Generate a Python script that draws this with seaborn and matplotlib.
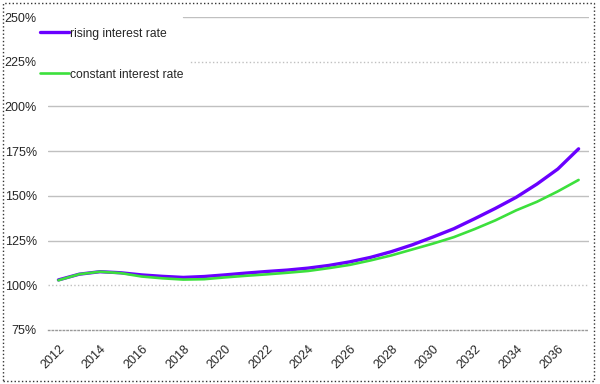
import matplotlib
matplotlib.use("Agg")
import matplotlib.pyplot as plt
import matplotlib.transforms as mtransforms
import seaborn as sns
import pandas as pd
import numpy as np
from matplotlib.patches import Rectangle
from matplotlib.lines import Line2D

years = list(range(2012, 2038))
rising = [103.0, 106.2, 107.6, 107.0, 105.8, 105.0, 104.4, 104.9, 105.8, 106.8,
          107.7, 108.5, 109.6, 111.1, 113.1, 115.6, 118.8, 122.6, 127.0, 131.6,
          137.2, 143.0, 149.2, 156.6, 165.0, 176.3]
constant = [102.8, 106.2, 107.6, 106.8, 104.9, 103.9, 103.2, 103.4, 104.4, 105.3,
            106.1, 107.0, 108.0, 109.6, 111.4, 113.9, 116.7, 120.0, 123.3, 126.9,
            131.4, 136.3, 141.9, 146.7, 152.5, 158.9]
series_names = ["rising interest rate", "constant interest rate"]
yticks = [75, 100, 125, 150, 175, 200, 225, 250]
xlabels = [str(y) if (y - 2012) % 2 == 0 else "" for y in years]

sns.set_style("white")
plt.rcParams['font.family'] = ['Liberation Sans', 'DejaVu Sans']

df = pd.DataFrame({
    "idx": list(range(len(years))) * 2,
    "value": rising + constant,
    "series": [series_names[0]] * len(years) + [series_names[1]] * len(years),
})

fig = plt.figure(figsize=(6.0, 3.84), dpi=100)
ax = fig.add_axes([48/600, 1-330/384, (589-48)/600, (330-17)/384])

legend_right = (183 - 48) / 541
for v in yticks[1:]:
    ls = ':' if v in (100, 225) else '-'
    xmin = legend_right if v in (225, 250) else 0
    ax.axhline(v, xmin=xmin, color='#c0c0c0', lw=1.0, ls=ls, zorder=0)

sns.lineplot(data=df, x="idx", y="value", hue="series",
             palette={series_names[0]: "#6a00ff", series_names[1]: "#3ce03c"},
             ax=ax, legend=False, estimator=None, sort=False)
lines = ax.get_lines()[-2:]
lines[0].set_linewidth(2.4)
lines[1].set_linewidth(1.9)

ax.set_xlim(-0.5, len(years) - 0.5)
ax.set_ylim(75, 250)
ax.set_yticks(yticks)
ax.set_yticklabels([f"{v}%" for v in yticks], fontsize=9)
ax.set_xticks(np.arange(len(years)))
ax.set_xticklabels(xlabels, rotation=45, ha='right', rotation_mode='anchor', fontsize=9)
offset = mtransforms.ScaledTranslation(-4/100, 0, fig.dpi_scale_trans)
for lbl in ax.get_xticklabels():
    lbl.set_transform(lbl.get_transform() + offset)
ax.set_xticks(np.arange(len(years) + 1) - 0.5, minor=True)
ax.tick_params(axis='x', which='major', length=0, pad=9)
ax.tick_params(axis='x', which='minor', direction='in', length=3, color='#999999', width=0.8)
ax.tick_params(axis='y', length=0, pad=8)
ax.set_xlabel("")
ax.set_ylabel("")
for s in ['top', 'right', 'left']:
    ax.spines[s].set_visible(False)
ax.spines['bottom'].set_color('#999999')
ax.spines['bottom'].set_linestyle(':')
ax.spines['bottom'].set_linewidth(1.0)

handles = [Line2D([], [], color="#6a00ff", lw=2.4), Line2D([], [], color="#3ce03c", lw=1.9)]
leg = fig.legend(handles, series_names, loc='upper left',
                 bbox_to_anchor=(36/600, 1-24/384), frameon=True, fontsize=8.7,
                 handlelength=2.4, handletextpad=0.15, labelspacing=2.4,
                 borderpad=0.3, borderaxespad=0)
leg.get_frame().set_facecolor('white')
leg.get_frame().set_edgecolor('white')
leg.get_frame().set_alpha(1.0)

fig.patches.append(Rectangle((3/600, 3/384), 591/600, 378/384, transform=fig.transFigure,
                             fill=False, edgecolor='#333333', lw=1.0, ls=':'))

fig.savefig("out.png", dpi=100)
